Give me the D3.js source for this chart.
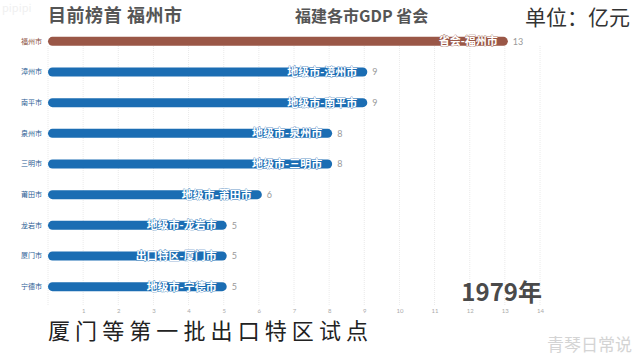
<!DOCTYPE html>
<html><head><meta charset="utf-8">
<script src="https://cdn.jsdelivr.net/npm/d3@7"></script>
<style>
html,body{margin:0;padding:0;background:#fff;}
svg{display:block;font-family:"Noto Sans CJK SC","Noto Sans",sans-serif;}
</style></head><body>
<svg id="c" width="641" height="364"></svg>
<script>
const cities = ["福州市","漳州市","南平市","泉州市","三明市","莆田市","龙岩市","厦门市","宁德市"];
const tags = ["省会-福州市","地级市-漳州市","地级市-南平市","地级市-泉州市","地级市-三明市","地级市-莆田市","地级市-龙岩市","出口特区-厦门市","地级市-宁德市"];
const values = [13,9,9,8,8,6,5,5,5];
const kinds = ["capital","city","city","city","city","city","city","zone","city"];
const ticks = [1,2,3,4,5,6,7,8,9,10,11,12,13,14];
const year = "1979年";

const svg = d3.select("#c");
const x = d3.scaleLinear().domain([0,14]).range([48,540]);
const y = d3.scaleBand().domain(cities).range([26,302]).paddingInner(0.7).paddingOuter(0.35);
const color = k => k==="capital" ? "#9a5747" : "#1b6db3";

// grid
svg.append("g").selectAll("line").data(d3.range(0,15)).join("line")
  .attr("x1",d=>x(d)).attr("x2",d=>x(d))
  .attr("y1",46).attr("y2",305)
  .attr("stroke","#e4e4e4").attr("stroke-width",0.8).attr("stroke-dasharray","1,1");

// axis tick labels
const ax = svg.append("g").attr("transform","translate(0,307)")
  .call(d3.axisBottom(x).tickValues(ticks).tickSize(0).tickPadding(2));
ax.select(".domain").remove();
ax.selectAll("text").attr("fill","#aaa").style("font-size","6px").style("font-family","Lato,sans-serif");

// bars
const bh = 9;
svg.selectAll("rect.bar").data(cities).join("rect")
  .attr("x",x(0)).attr("y",(d)=>y(d)+y.bandwidth()/2-bh/2)
  .attr("width",(d,i)=>x(values[i])-x(0)+3).attr("height",bh)
  .attr("rx",bh/2).attr("fill",(d,i)=>color(kinds[i]));

// city labels
svg.selectAll("text.city").data(cities).join("text")
  .attr("x",42).attr("y",d=>y(d)+y.bandwidth()/2).attr("dy","0.35em")
  .attr("text-anchor","end").style("font-size","7px")
  .attr("fill",(d,i)=>i===0?"#8a4f40":"#2a5d94").text(d=>d);

// inside labels
svg.selectAll("text.tag").data(cities).join("text")
  .attr("x",(d,i)=>x(values[i])-7).attr("y",d=>y(d)+y.bandwidth()/2).attr("dy","0.36em")
  .attr("text-anchor","end").style("font-size","11px").style("font-weight","bold")
  .attr("fill","#fff").attr("stroke",(d,i)=>color(kinds[i])).attr("stroke-width",0.6)
  .style("paint-order","stroke")
  .text((d,i)=>tags[i]);

// value labels
svg.selectAll("text.val").data(cities).join("text")
  .attr("x",(d,i)=>x(values[i])+8).attr("y",d=>y(d)+y.bandwidth()/2).attr("dy","0.36em")
  .style("font-size","9px").attr("fill","#999").style("font-family","Lato,sans-serif")
  .text((d,i)=>values[i]);

// titles
svg.append("text").attr("x",48).attr("y",22).style("font-size","18px").style("font-weight","bold")
  .attr("fill","#555").attr("textLength",134).text("目前榜首 福州市");
svg.append("text").attr("x",295).attr("y",22).style("font-size","16px").style("font-weight","bold")
  .attr("fill","#555").text("福建各市GDP 省会");
svg.append("text").attr("x",525).attr("y",25).style("font-size","21px")
  .attr("fill","#333").attr("textLength",105).text("单位：亿元");
svg.append("text").attr("x",542).attr("y",301).attr("text-anchor","end").style("font-size","24px").style("font-weight","bold")
  .attr("fill","#4a4a4a").text(year);
svg.append("text").attr("x",48).attr("y",339).style("font-size","22px")
  .attr("fill","#222").attr("textLength",320).text("厦门等第一批出口特区试点");
svg.append("text").attr("x",632).attr("y",351).attr("text-anchor","end").style("font-size","17px")
  .attr("fill","#d4d4d4").text("青琴日常说");
svg.append("text").attr("x",2).attr("y",12).style("font-size","11px")
  .attr("fill","#f0f0f0").text("pipipi");
</script>
</body></html>
